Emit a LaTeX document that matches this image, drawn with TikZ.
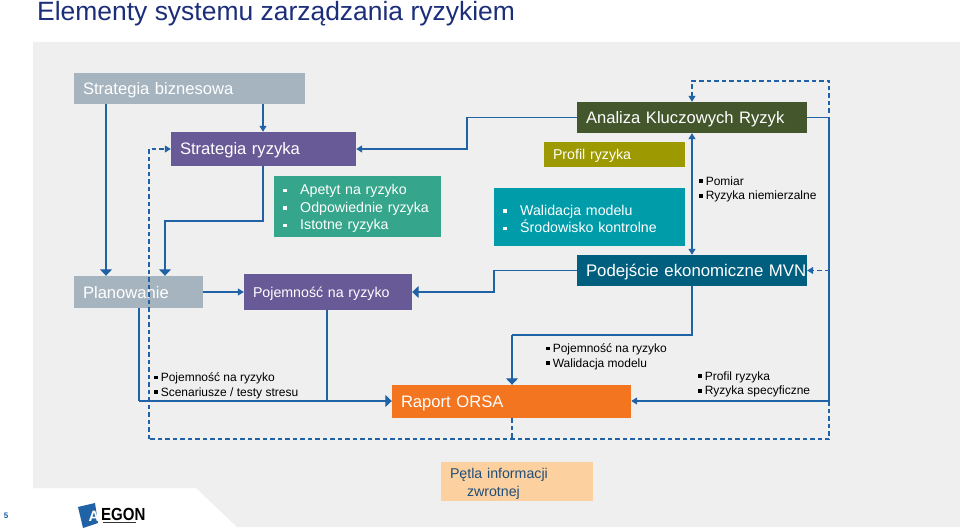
\documentclass[tikz,border=0pt]{standalone}
\usepackage{fontspec}
\setmainfont{Liberation Sans}
\usepackage{tikz}
\usepackage{xcolor}
\usetikzlibrary{arrows.meta, positioning, calc}
\definecolor{flowblue}{HTML}{1F63A6}
\definecolor{panelgray}{HTML}{EFEFEF}
\definecolor{slate}{HTML}{A6B4BF}
\definecolor{violet}{HTML}{685A96}
\definecolor{jade}{HTML}{35A68B}
\definecolor{moss}{HTML}{44562C}
\definecolor{olivebox}{HTML}{9C9A00}
\definecolor{teal}{HTML}{009CA9}
\definecolor{petrol}{HTML}{005F7E}
\definecolor{orangebox}{HTML}{F47520}
\definecolor{peach}{HTML}{FDD09F}
\definecolor{titlenavy}{HTML}{1C2E7A}
\definecolor{numblue}{HTML}{1B5E9E}
\definecolor{loopnote}{HTML}{1F4E79}
\newcommand{\sqb}{\rule[2.2pt]{3.8pt}{3.8pt}\hspace{2.8pt}}
\newcommand{\sqw}{\rule[2.6pt]{3.6pt}{3.6pt}\hspace{13.6pt}}
\begin{document}
\begin{tikzpicture}[x=1pt, y=-1pt,
            stage/.style={rectangle, inner sep=0pt, inner xsep=9pt, align=left, text=white, font=\fontsize{16.6}{19}\selectfont, execute at begin node={\rule[-4pt]{0pt}{20pt}}},
            inbox/.style={rectangle, inner sep=0pt, inner xsep=9pt, align=left, text=white, font=\fontsize{14.2}{17.5}\selectfont, execute at begin node={\rule[-4pt]{0pt}{18.5pt}}},
            note/.style={anchor=north west, inner sep=0pt, align=left, font=\fontsize{12}{14.6}\selectfont},
            flow/.style={flowblue, line width=1.2pt},
            flowto/.style={flow, -{Triangle[length=6pt, width=7pt]}},
            flowbig/.style={flow, -{Triangle[length=6.5pt, width=12pt]}},
            loopline/.style={flowblue, line width=1.2pt, dash pattern=on 4.5pt off 3pt},
            loopto/.style={loopline, -{Triangle[length=6pt, width=7pt]}}]
            \useasboundingbox (0,0) rectangle (960,529);
            \fill[white] (0,0) rectangle (960,529);
            \fill[panelgray] (33,42) -- (960,42) -- (960,527) -- (237,527) -- (196,488) -- (33,488) -- cycle;
            \node[anchor=base west, inner sep=0pt, text=titlenavy, font=\fontsize{26.45}{30}\selectfont] (title) at (37,21) {Elementy systemu zarządzania ryzykiem};

            \node[stage, fill=slate, text width=213pt, minimum height=31pt] (biznes) at (189.5,88.5) {Strategia biznesowa};
            \node[stage, fill=violet, text width=167pt, minimum height=34pt] (strategia) at (263.5,149) {Strategia ryzyka};
            \node[inbox, fill=jade, text width=149pt, minimum height=61pt] (apetyt) at (357.5,206.5) {\sqw Apetyt na ryzyko\\\sqw Odpowiednie ryzyka\\\sqw Istotne ryzyka};
            \node[stage, fill=slate, text width=111pt, minimum height=32pt] (plan) at (138.5,292) {Planowanie};
            \node[inbox, fill=violet, text width=150pt, minimum height=36pt] (pojemnosc) at (328,292) {Pojemność na ryzyko};
            \node[stage, fill=moss, text width=212pt, minimum height=31pt] (analiza) at (692,117.5) {Analiza Kluczowych Ryzyk};
            \node[inbox, fill=olivebox, text width=123pt, minimum height=25pt] (profil) at (614.5,154.5) {Profil ryzyka};
            \node[inbox, fill=teal, text width=173pt, minimum height=58pt] (walidacja) at (589.5,217) {\sqw Walidacja modelu\\\sqw Środowisko kontrolne};
            \node[stage, fill=petrol, text width=212pt, minimum height=31pt, font=\fontsize{16.8}{19}\selectfont] (podejscie) at (692,270.5) {\mbox{Podejście ekonomiczne MVN}};
            \node[stage, fill=orangebox, text width=221pt, minimum height=33pt] (raport) at (511.5,401.5) {Raport ORSA};
            \node[inbox, fill=peach, text=loopnote, text width=134pt, minimum height=39pt] (petla) at (517,481.5) {Pętla informacji\\\hspace*{17pt}zwrotnej};

            \node[note] (pomiar) at (699,176.5) {\sqb Pomiar\\\sqb Ryzyka niemierzalne};
            \node[note] (scen) at (154,372.5) {\sqb Pojemność na ryzyko\\\sqb Scenariusze / testy stresu};
            \node[note] (walnote) at (546,343.5) {\sqb Pojemność na ryzyko\\\sqb Walidacja modelu};
            \node[note] (profnote) at (698,371.5) {\sqb Profil ryzyka\\\sqb Ryzyka specyficzne};

            \coordinate (colplan) at (106,0);
            \coordinate (colstrat) at (263,0);
            \coordinate (colin) at (165,221);
            \coordinate (colout) at (139,401);
            \coordinate (colpoj) at (327,401);
            \coordinate (colloop) at (149,439);
            \coordinate (colright) at (829,117.5);
            \coordinate (colorsa) at (512,335);
            \coordinate (colmid) at (692,81);
            \coordinate (kneeup) at (467,117.5);
            \coordinate (kneelow) at (494,270.5);
            \coordinate (loopend) at (512,439);
            \coordinate (loopright) at (829,439);
            \coordinate (looptop) at (829,113);
            \coordinate (loopmvn) at (829,270.5);
            \coordinate (orsain) at (829,401);

            \draw[flowbig] (biznes.south -| colplan) -- (plan.north -| colplan);
            \draw[flowto] (biznes.south -| colstrat) -- (strategia.north -| colstrat);
            \draw[flowbig] (strategia.south -| colstrat) |- (colin) -- (plan.north -| colin);
            \draw[flowto] (analiza.west) -- (kneeup) |- (strategia.east);
            \draw[flow, {Triangle[length=6pt, width=7pt]}-{Triangle[length=6pt, width=7pt]}] (analiza.south) -- (podejscie.north);
            \draw[flow] (analiza.east) -- (colright) -- (orsain);
            \draw[flowto] (orsain) -- (raport.east |- orsain);
            \draw[flowbig] (podejscie.west) -- (kneelow) |- (pojemnosc.east);
            \draw[flowto] (plan.east) -- (pojemnosc.west);
            \draw[flow] (plan.south -| colout) -- (colout);
            \draw[flowbig] (colout) -- (raport.west |- colout);
            \draw[flow] (pojemnosc.south -| colpoj) -- (colpoj);
            \draw[flow] (podejscie.south) |- (colorsa);
            \draw[flowbig] (colorsa) -- (raport.north -| colorsa);

            \draw[loopto] (looptop) |- (colmid) -- (analiza.north);
            \draw[loopto] (loopmvn) -- (podejscie.east);
            \draw[loopline] (orsain) -- (loopright) -- (colloop);
            \draw[loopto] (colloop) |- (strategia.west);
            \draw[loopline] (raport.south -| loopend) -- (loopend);

            \node[inner sep=0pt, text=numblue, font=\bfseries\fontsize{8}{9}\selectfont] (pageno) at (6,516) {5};
            \fill[flowblue] (78,507) -- (95,503) -- (98,523) -- (83,528) -- cycle;
            \node[inner sep=0pt, text=white, font=\bfseries\fontsize{15}{15}\selectfont] (logoa) at (94,516) {A};
            \node[anchor=west, inner sep=0pt, text=black, font=\bfseries\fontsize{17.5}{17.5}\selectfont] (logotext) at (101,514) {\scalebox{0.86}[1]{EGON}};
            \draw[black!80, line width=1.4pt] (103,522.5) -- (136,522.5);
        \end{tikzpicture}
\end{document}
